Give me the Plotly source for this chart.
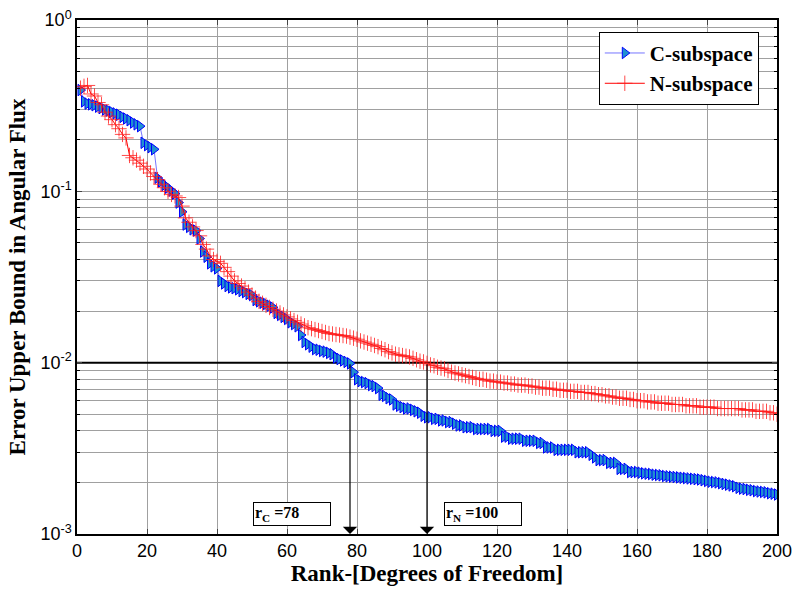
import plotly.graph_objects as go

rank = list(range(1, 201))

c_subspace = [
    0.39, 0.335, 0.325, 0.322, 0.318, 0.312, 0.306, 0.300, 0.296, 0.290,
    0.285, 0.280, 0.272, 0.266, 0.260, 0.252, 0.246, 0.240, 0.192, 0.186,
    0.181, 0.176, 0.120, 0.114, 0.109, 0.105, 0.101, 0.097, 0.086, 0.076,
    0.064, 0.062, 0.060, 0.059, 0.053, 0.0445, 0.0415, 0.038, 0.0365, 0.0355,
    0.030, 0.029, 0.028, 0.0275, 0.0272, 0.0268, 0.0262, 0.0258, 0.0252, 0.0248,
    0.0232, 0.0228, 0.0224, 0.0220, 0.0215, 0.0210, 0.0195, 0.0190, 0.0185, 0.0180,
    0.0172, 0.0168, 0.0163, 0.0145, 0.0132, 0.0128, 0.0124, 0.0120, 0.0119, 0.0117,
    0.0116, 0.0114, 0.0112, 0.0107, 0.0105, 0.0103, 0.0101, 0.0099, 0.0088, 0.0080,
    0.0078, 0.0077, 0.0076, 0.0074, 0.0073, 0.0071, 0.0065, 0.0064, 0.0062, 0.0061,
    0.0057, 0.0056, 0.0055, 0.0054, 0.0054, 0.0053, 0.0052, 0.0051, 0.0049, 0.0048,
    0.0048, 0.0047, 0.0047, 0.0046, 0.0046, 0.0045, 0.0045, 0.0044, 0.0043, 0.0043,
    0.0042, 0.0042, 0.0042, 0.0041, 0.0041, 0.0041, 0.0041, 0.0041, 0.0040, 0.0040,
    0.0040, 0.0037, 0.0037, 0.0036, 0.0036, 0.0036, 0.0036, 0.0035, 0.0035, 0.0035,
    0.0035, 0.0034, 0.0034, 0.0032, 0.0032, 0.0032, 0.0031, 0.0031, 0.0031, 0.0031,
    0.0031, 0.0031, 0.0030, 0.0030, 0.0030, 0.0030, 0.0029, 0.0028, 0.0027, 0.0027,
    0.0027, 0.0026, 0.0026, 0.0026, 0.0024, 0.0024, 0.0024, 0.0023, 0.0023, 0.0023,
    0.00228, 0.00226, 0.00225, 0.00224, 0.00222, 0.00221, 0.00220, 0.00218, 0.00217, 0.00216,
    0.00215, 0.00214, 0.00213, 0.00212, 0.00211, 0.00210, 0.00209, 0.00208, 0.00206, 0.00204,
    0.00202, 0.00201, 0.00200, 0.00198, 0.00196, 0.00194, 0.00192, 0.00190, 0.00186, 0.00184,
    0.00183, 0.00181, 0.00180, 0.00178, 0.00177, 0.00176, 0.00175, 0.00173, 0.00172, 0.00170,
]

n_subspace = [
    0.40, 0.41, 0.415, 0.37, 0.36, 0.33, 0.32, 0.29, 0.275, 0.262,
    0.245, 0.232, 0.215, 0.205, 0.162, 0.157, 0.152, 0.146, 0.140, 0.135,
    0.128, 0.122, 0.117, 0.110, 0.105, 0.100, 0.096, 0.094, 0.092, 0.082,
    0.070, 0.066, 0.062, 0.059, 0.055, 0.049, 0.046, 0.042, 0.040, 0.039,
    0.038, 0.036, 0.034, 0.032, 0.030, 0.029, 0.028, 0.027, 0.0258, 0.0248,
    0.0238, 0.0228, 0.0222, 0.0216, 0.0210, 0.0205, 0.0200, 0.0195, 0.0190, 0.0185,
    0.0180, 0.0176, 0.0172, 0.0168, 0.0164, 0.0160, 0.0158, 0.0156, 0.0154, 0.0152,
    0.0150, 0.0148, 0.0147, 0.0146, 0.0145, 0.0144, 0.0143, 0.0141, 0.0139, 0.0137,
    0.0134, 0.0132, 0.0130, 0.0128, 0.0126, 0.0124, 0.0121, 0.0119, 0.0116, 0.0114,
    0.0112, 0.0111, 0.0110, 0.0109, 0.0108, 0.0106, 0.0104, 0.0102, 0.0101, 0.0099,
    0.0097, 0.0096, 0.0094, 0.0093, 0.0092, 0.0090, 0.0088, 0.0087, 0.0086, 0.0085,
    0.0084, 0.0083, 0.0082, 0.0081, 0.0080, 0.0080, 0.0079, 0.0078, 0.0078, 0.0077,
    0.0077, 0.0076, 0.0076, 0.0075, 0.0075, 0.0074, 0.0074, 0.0074, 0.0073, 0.0073,
    0.0072, 0.0072, 0.0071, 0.0071, 0.0071, 0.0070, 0.0070, 0.0069, 0.0069, 0.0069,
    0.0068, 0.0068, 0.0068, 0.0067, 0.0067, 0.0067, 0.0066, 0.0066, 0.0065, 0.0065,
    0.0064, 0.0064, 0.0063, 0.0063, 0.0062, 0.0062, 0.0062, 0.0061, 0.0061, 0.0060,
    0.0060, 0.0060, 0.0059, 0.0059, 0.0059, 0.0058, 0.0058, 0.0058, 0.0058, 0.0057,
    0.0057, 0.0057, 0.0057, 0.0056, 0.0056, 0.0056, 0.0056, 0.0055, 0.0055, 0.0055,
    0.0055, 0.0055, 0.0054, 0.0054, 0.0054, 0.0054, 0.0054, 0.0054, 0.0054, 0.0053,
    0.0053, 0.0053, 0.0053, 0.0052, 0.0052, 0.0052, 0.0052, 0.0051, 0.0051, 0.0050,
]

threshold = 0.01
r_c = 78
r_n = 100
y_ticks = [1e-3, 1e-2, 1e-1, 1]
y_ticktext = ["10<sup>-3</sup>", "10<sup>-2</sup>", "10<sup>-1</sup>", "10<sup>0</sup>"]
y_minor = [m * 10 ** e for e in (-3, -2, -1) for m in range(2, 10)]
x_ticks = list(range(0, 201, 20))

serif = "Liberation Serif"
sans = "Liberation Sans"
grid = "#a0a0a0"

fig = go.Figure()

fig.add_trace(go.Scatter(
    x=[0, 200], y=[threshold, threshold], mode="lines",
    line=dict(color="black", width=2), showlegend=False, hoverinfo="skip",
))

fig.add_trace(go.Scatter(
    x=rank, y=c_subspace, mode="lines+markers", name="C-subspace",
    line=dict(color="#3b3bff", width=0.7),
    marker=dict(symbol="triangle-right", size=10, color="#2090d0",
                line=dict(color="#0000ff", width=1)),
))

fig.add_trace(go.Scatter(
    x=rank, y=n_subspace, mode="lines+markers", name="N-subspace",
    line=dict(color="#ff0000", width=1),
    marker=dict(symbol="cross-thin", size=11, color="#ff3030",
                line=dict(color="rgba(255,30,30,0.8)", width=1)),
))

# arrows from the threshold down to the axis
for r in (r_c, r_n):
    fig.add_annotation(
        x=r, y=-3, ax=r, ay=-2, xref="x", yref="y", axref="x", ayref="y",
        text="", showarrow=True, arrowhead=1, arrowsize=2, arrowwidth=1.2,
        arrowcolor="black",
    )

fig.add_annotation(
    x=61.4, y=-2.884, xref="x", yref="y", text="<b>r<sub>C</sub> =78</b>",
    showarrow=False, bordercolor="black", borderwidth=1, bgcolor="white",
    width=74, height=20, align="left",
    font=dict(family=serif, size=16, color="black"),
)
fig.add_annotation(
    x=115.9, y=-2.884, xref="x", yref="y", text="<b>r<sub>N</sub> =100</b>",
    showarrow=False, bordercolor="black", borderwidth=1, bgcolor="white",
    width=74, height=20, align="left",
    font=dict(family=serif, size=16, color="black"),
)

fig.update_layout(
    width=796, height=592,
    margin=dict(l=77, r=19, t=20, b=58),
    paper_bgcolor="white", plot_bgcolor="white",
    showlegend=True,
    legend=dict(
        x=0.974, y=0.977, xanchor="right", yanchor="top",
        bgcolor="white", bordercolor="black", borderwidth=1,
        font=dict(family=serif, size=21, color="black", weight="bold"),
        tracegroupgap=0, itemwidth=40,
    ),
    xaxis=dict(
        range=[0, 200], tickvals=x_ticks, showgrid=True, gridcolor=grid,
        gridwidth=1, zeroline=False, showline=True, linecolor="black",
        linewidth=1.5, mirror="allticks", ticks="inside", ticklen=5,
        automargin=False,
        tickfont=dict(family=sans, size=18, color="black"),
        title=dict(text="Rank-[Degrees of Freedom]", standoff=4,
                   font=dict(family=serif, size=23, color="black", weight="bold")),
    ),
    yaxis=dict(
        type="log", range=[-3, 0], tickvals=y_ticks, ticktext=y_ticktext,
        showgrid=True, gridcolor=grid, gridwidth=1, zeroline=False,
        showline=True, linecolor="black", linewidth=1.5, mirror="allticks",
        ticks="inside", ticklen=5, automargin=False,
        tickfont=dict(family=sans, size=18, color="black"),
        minor=dict(tickvals=y_minor, showgrid=True, gridcolor=grid,
                   gridwidth=1, ticks="inside", ticklen=3, tickcolor="black"),
        title=dict(text="Error Upper Bound in Angular Flux", standoff=8,
                   font=dict(family=serif, size=23, color="black", weight="bold")),
    ),
)

fig.write_html("out.html")
